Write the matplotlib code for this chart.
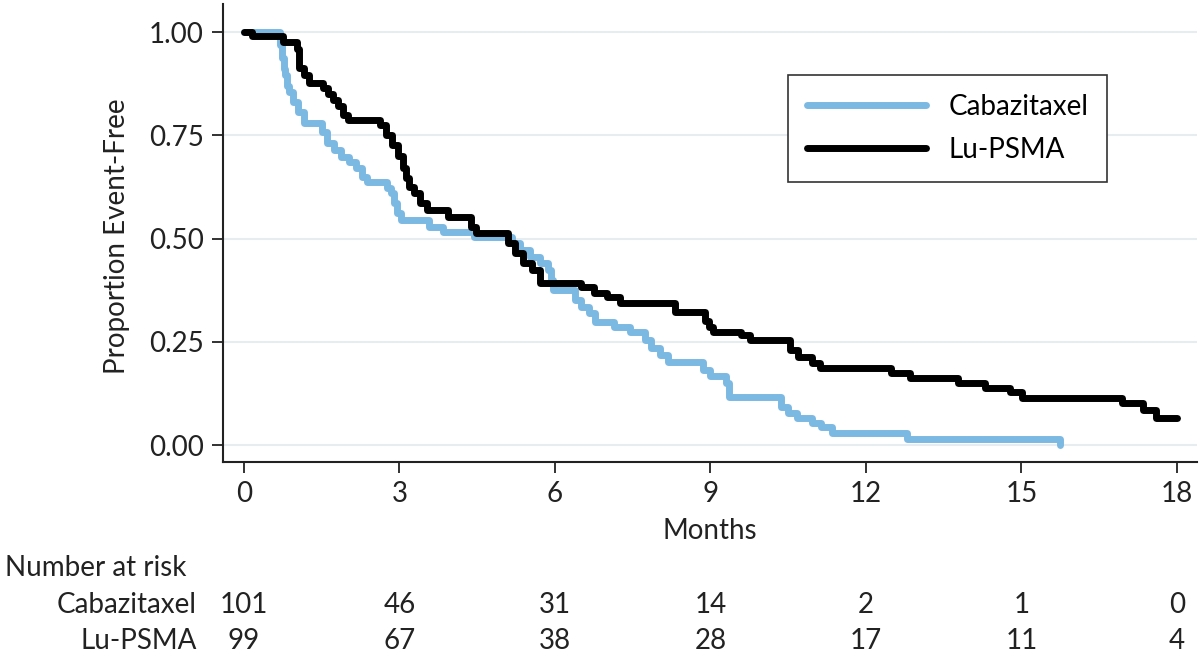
import matplotlib
matplotlib.use("Agg")
import matplotlib.pyplot as plt
import matplotlib.transforms as mtransforms

plt.rcParams['font.family'] = ['Lato', 'DejaVu Sans']

# Kaplan-Meier steps (months, proportion event-free)
cab_t = [0, 0.70, 0.73, 0.77, 0.80, 0.83, 0.87, 0.95, 1.04, 1.16, 1.51, 1.60, 1.74, 1.87,
         2.03, 2.16, 2.28, 2.37, 2.76, 2.84, 2.90, 2.95, 3.03, 3.57, 3.84, 4.44, 5.17,
         5.33, 5.52, 5.71, 5.87, 5.93, 5.97, 6.39, 6.50, 6.66, 6.78, 7.14, 7.45, 7.74,
         7.86, 8.03, 8.19, 8.86, 9.00, 9.30, 9.36, 10.37, 10.50, 10.68, 10.97, 11.14,
         11.35, 12.80, 15.75]
cab_s = [1.00, 0.968, 0.937, 0.91, 0.896, 0.87, 0.855, 0.83, 0.806, 0.78, 0.758, 0.731,
         0.714, 0.697, 0.685, 0.67, 0.649, 0.637, 0.622, 0.61, 0.586, 0.562, 0.545, 0.528,
         0.516, 0.504, 0.49, 0.472, 0.455, 0.44, 0.424, 0.40, 0.375, 0.351, 0.334, 0.32,
         0.298, 0.286, 0.274, 0.254, 0.235, 0.218, 0.20, 0.182, 0.168, 0.15, 0.116, 0.092,
         0.077, 0.065, 0.053, 0.044, 0.029, 0.0145, 0.0]

lu_t = [0, 0.15, 0.75, 1.02, 1.06, 1.16, 1.25, 1.52, 1.62, 1.72, 1.81, 1.91, 2.00, 2.63,
        2.74, 2.86, 2.97, 3.07, 3.13, 3.19, 3.28, 3.40, 3.53, 3.94, 4.38, 4.48, 5.10,
        5.23, 5.39, 5.56, 5.71, 6.50, 6.76, 7.00, 7.26, 8.32, 8.90, 8.98, 9.05, 9.60,
        9.77, 10.54, 10.70, 10.97, 11.12, 12.49, 12.86, 13.78, 14.30, 14.79, 15.02,
        16.95, 17.34, 17.59, 18.0]
lu_s = [1.00, 0.99, 0.976, 0.96, 0.913, 0.896, 0.877, 0.865, 0.85, 0.835, 0.82, 0.80,
        0.787, 0.775, 0.75, 0.726, 0.70, 0.67, 0.646, 0.625, 0.61, 0.586, 0.569, 0.552,
        0.528, 0.513, 0.489, 0.465, 0.44, 0.424, 0.392, 0.383, 0.368, 0.358, 0.344,
        0.322, 0.30, 0.286, 0.274, 0.266, 0.254, 0.23, 0.213, 0.198, 0.186, 0.174, 0.162,
        0.150, 0.138, 0.128, 0.114, 0.102, 0.085, 0.065, 0.065]

risk_times = [0, 3, 6, 9, 12, 15, 18]
risk_cab = [101, 46, 31, 14, 2, 1, 0]
risk_lu = [99, 67, 38, 28, 17, 11, 4]

blue = "#7cb9e2"
ink = "#222222"
fs = 20

fig = plt.figure(figsize=(12, 6.66), dpi=100)
ax = fig.add_axes([223 / 1200, 1 - 462 / 666, 974 / 1200, 458 / 666])

ax.step(cab_t, cab_s, where="post", color=blue, lw=5, label="Cabazitaxel",
        solid_capstyle="round", zorder=3)
ax.step(lu_t, lu_s, where="post", color="black", lw=5, label="Lu-PSMA",
        solid_capstyle="round", zorder=4)

ax.set_xlim(-0.405, 18.39)
ax.set_ylim(-0.041, 1.068)
ax.set_xticks(risk_times)
ax.set_yticks([0, 0.25, 0.5, 0.75, 1.0])
ax.set_yticklabels(["0.00", "0.25", "0.50", "0.75", "1.00"])
ax.yaxis.grid(True, color="#e6ecef", lw=1.5)
ax.set_axisbelow(True)
for s in ["top", "right"]:
    ax.spines[s].set_visible(False)
for s in ["left", "bottom"]:
    ax.spines[s].set_color(ink)
    ax.spines[s].set_linewidth(1.5)
ax.tick_params(axis="both", length=8, width=1.3, color=ink, labelsize=fs,
               pad=6, labelcolor=ink)

fig.text(117 / 1200, 1 - 236 / 666, "Proportion Event-Free", rotation=90,
         ha="center", va="center", fontsize=fs, color=ink)
fig.text(710 / 1200, 1 - 531 / 666, "Months", ha="center", va="center",
         fontsize=fs, color=ink)

leg = ax.legend(loc="upper left", bbox_to_anchor=(0.580, 0.845), fontsize=fs,
                handlelength=4.3, handletextpad=0.8, labelspacing=0.62,
                borderpad=0.68, borderaxespad=0, fancybox=False, framealpha=1)
leg.get_frame().set_edgecolor("#333333")
leg.get_frame().set_linewidth(1.2)

# number at risk table
tr = mtransforms.blended_transform_factory(ax.transData, fig.transFigure)
fig.text(5 / 1200, 1 - 568 / 666, "Number at risk", ha="left", va="center",
         fontsize=fs, color=ink)
fig.text(197 / 1200, 1 - 605 / 666, "Cabazitaxel", ha="right", va="center",
         fontsize=fs, color=ink)
fig.text(197 / 1200, 1 - 641 / 666, "Lu-PSMA", ha="right", va="center",
         fontsize=fs, color=ink)
for t, c, l in zip(risk_times, risk_cab, risk_lu):
    ax.text(t, 1 - 605 / 666, str(c), transform=tr, ha="center", va="center",
            fontsize=fs, color=ink)
    ax.text(t, 1 - 641 / 666, str(l), transform=tr, ha="center", va="center",
            fontsize=fs, color=ink)

fig.savefig("out.png", dpi=100)
